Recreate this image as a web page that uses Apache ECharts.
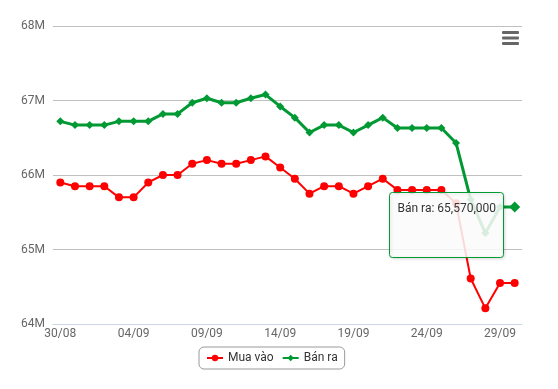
<!DOCTYPE html>
<html>
<head>
<meta charset="utf-8">
<script src="https://cdn.jsdelivr.net/npm/echarts@6/dist/echarts.min.js"></script>
<style>
html,body{margin:0;padding:0;background:#fff;}
#chart{width:558px;height:389px;}
</style>
</head>
<body>
<div id="chart"></div>
<script>
var dates = ['30/08','31/08','01/09','02/09','03/09','04/09','05/09','06/09','07/09','08/09','09/09','10/09','11/09','12/09','13/09','14/09','15/09','16/09','17/09','18/09','19/09','20/09','21/09','22/09','23/09','24/09','25/09','26/09','27/09','28/09','29/09','30/09'];
var buy = [65900000,65850000,65850000,65850000,65700000,65700000,65900000,66000000,66000000,66150000,66200000,66150000,66150000,66200000,66250000,66100000,65950000,65750000,65850000,65850000,65750000,65850000,65950000,65800000,65800000,65800000,65800000,65620000,64610000,64210000,64550000,64550000];
var sell = [66720000,66670000,66670000,66670000,66720000,66720000,66720000,66820000,66820000,66970000,67030000,66970000,66970000,67030000,67080000,66920000,66770000,66570000,66670000,66670000,66570000,66670000,66770000,66630000,66630000,66630000,66630000,66430000,65670000,65220000,65570000,65570000];
var yTicks = [64000000,65000000,66000000,67000000,68000000];
var seriesNames = ['Mua vào','Bán ra'];
var hoverIndex = 31;

var RED = '#ff0000', GREEN = '#009933';
var chart = echarts.init(document.getElementById('chart'), null, {renderer:'canvas'});
function fmt(n){ return n.toString().replace(/\B(?=(\d{3})+(?!\d))/g, ','); }
var sellData = sell.map(function(v,i){
  return i === hoverIndex ? {value:v, symbolSize:11} : v;
});
chart.setOption({
  animation:false,
  textStyle:{fontFamily:'Roboto'},
  grid:{left:53,right:36,top:26,bottom:65},
  xAxis:{
    type:'category', data:dates, boundaryGap:true,
    axisLine:{lineStyle:{color:'#ccd6eb',width:1}},
    axisTick:{interval:0,length:5,lineStyle:{color:'#ccd6eb'}},
    axisLabel:{interval:4,color:'#666',fontSize:12,margin:4,fontFamily:'Roboto'}
  },
  yAxis:{
    type:'value', min:yTicks[0], max:yTicks[yTicks.length-1], interval:1000000,
    axisLine:{show:false}, axisTick:{show:false},
    axisLabel:{formatter:function(v){return (v/1000000)+'M';},color:'#666',fontSize:12,margin:8,fontFamily:'Roboto'},
    splitLine:{lineStyle:{color:'#c0c0c0',width:1}}
  },
  legend:{
    left:199, top:347, orient:'horizontal',
    borderColor:'#999', borderWidth:1, borderRadius:5, padding:[5,7],
    itemWidth:16, itemHeight:8, itemGap:8,
    textStyle:{color:'#333',fontSize:12,fontFamily:'Roboto'},
    data:seriesNames
  },
  series:[
    {name:seriesNames[0], type:'line', data:buy, symbol:'circle', symbolSize:8,
     lineStyle:{color:RED,width:2}, itemStyle:{color:RED}, z:2},
    {name:seriesNames[1], type:'line', data:sellData, symbol:'diamond', symbolSize:8,
     lineStyle:{color:GREEN,width:3}, itemStyle:{color:GREEN}, z:3}
  ],
  graphic:[
    {type:'rect', shape:{x:502,y:31,width:17,height:3,r:1}, style:{fill:'#666'}},
    {type:'rect', shape:{x:502,y:36.5,width:17,height:3,r:1}, style:{fill:'#666'}},
    {type:'rect', shape:{x:502,y:42,width:17,height:3,r:1}, style:{fill:'#666'}},
    {type:'rect', z:100, shape:{x:389.5,y:192.5,width:114,height:65,r:3},
     style:{fill:'rgba(255,255,255,0.85)',stroke:GREEN,lineWidth:1,shadowBlur:3,shadowOffsetX:1,shadowOffsetY:1,shadowColor:'rgba(0,0,0,0.15)'}},
    {type:'text', z:101, x:397.5, y:208.5,
     style:{text:seriesNames[1]+': '+fmt(sell[hoverIndex]),fill:'#333',fontSize:12,fontFamily:'Roboto',verticalAlign:'middle',align:'left'}}
  ]
});
</script>
</body>
</html>
